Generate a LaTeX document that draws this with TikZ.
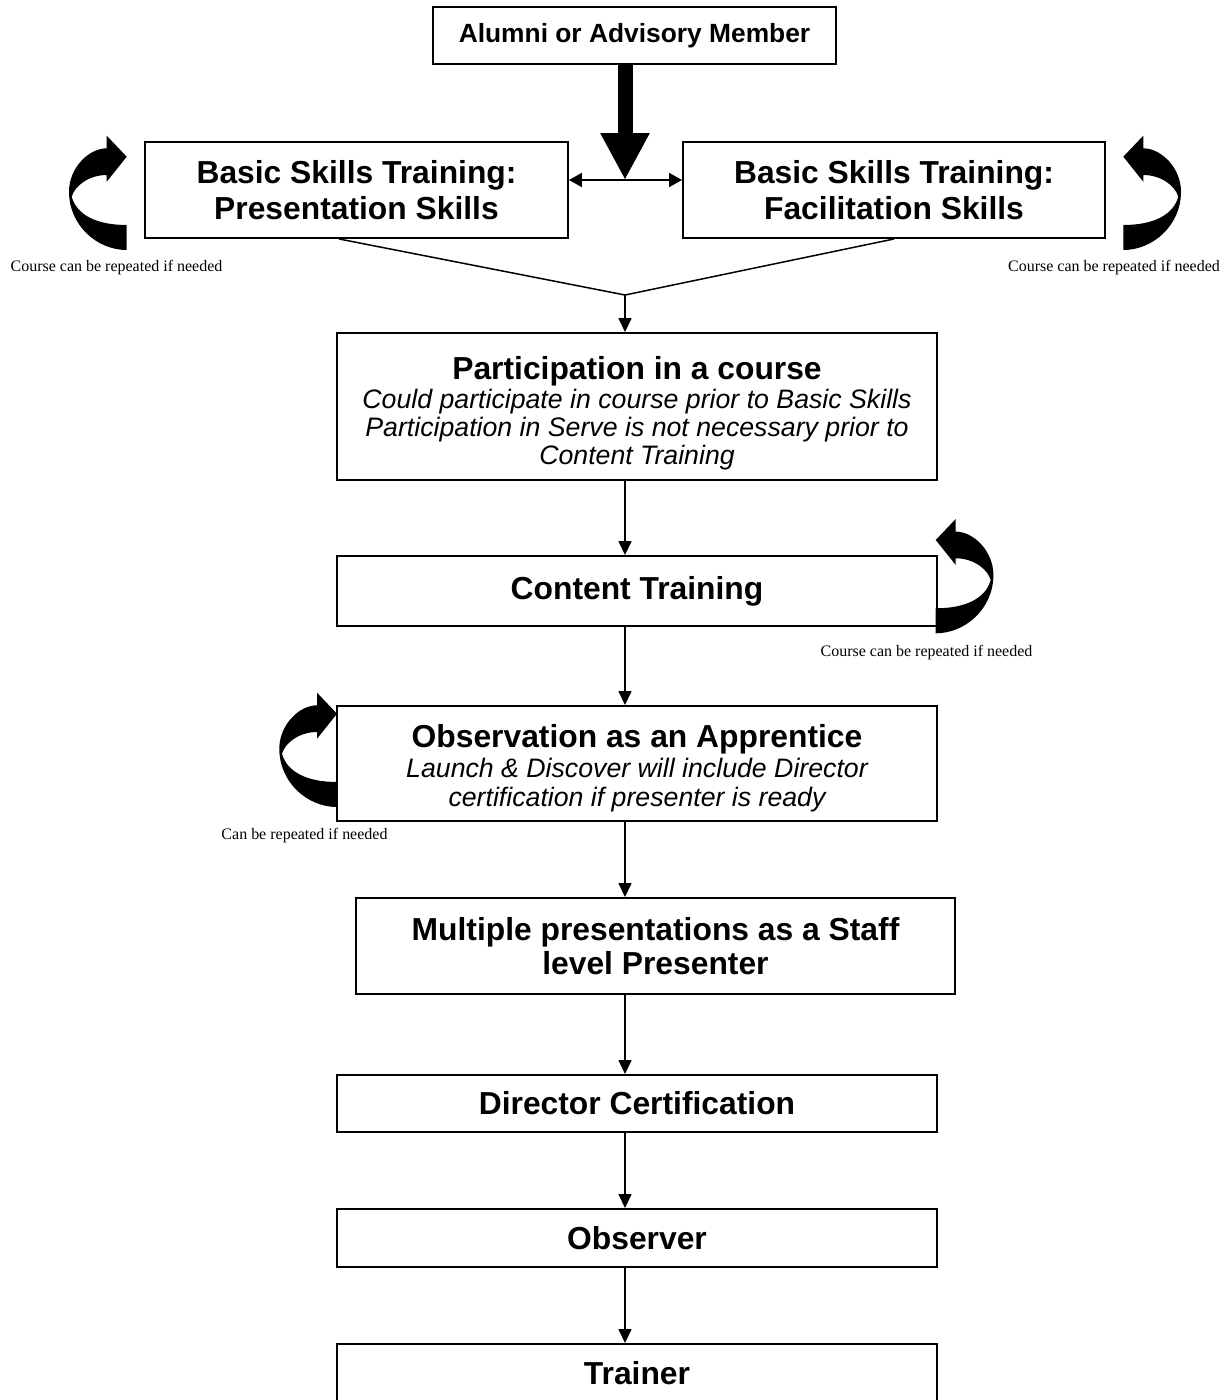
\documentclass[tikz,border=0pt]{standalone}
\usepackage{fontspec}
\setmainfont{Liberation Sans}
\newfontfamily\notefont{Liberation Serif}
\usetikzlibrary{arrows.meta,positioning,calc}

\tikzset{
    box/.style={draw, line width=1.1pt, inner sep=0pt, align=center, minimum width=12cm},
    titlefont/.style={font=\fontsize{18.1}{20.8}\selectfont\bfseries},
    bodyfont/.style={font=\fontsize{15.2}{16.2}\selectfont\itshape},
    flow/.style={-{Triangle[length=0.28cm,width=0.26cm]}, line width=0.85pt},
    note/.style={font=\notefont\fontsize{9.1}{11}\selectfont},
    loop arrow/.pic={
        \fill (0,0) .. controls (-30,0) and (-57.7,-25) .. (-57.7,-58.3)
            .. controls (-57.7,-82) and (-38,-101.7) .. (-20,-101.7)
            -- (-20,-114.3) -- (0,-93.3) -- (-20,-68.3) -- (-20,-75)
            .. controls (-38,-75) and (-52,-64) .. (-55,-53.3)
            .. controls (-50,-35) and (-30,-25) .. (0,-25) -- cycle;
    }
}

\begin{document}
\begin{tikzpicture}[x=0.02cm, y=-0.02cm]
    \useasboundingbox (0,0) rectangle (1227,1400);

    % Boxes
    \node[box, minimum width=8.06cm, minimum height=1.14cm, font=\fontsize{15}{18}\selectfont\bfseries] (alumni) at (634.5,35.5) {Alumni or Advisory Member};
    \node[box, titlefont, minimum width=8.46cm, minimum height=1.92cm] (pres) at (356.5,190) {Basic Skills Training:\\Presentation Skills};
    \node[box, titlefont, minimum width=8.44cm, minimum height=1.92cm] (facil) at (894,190) {Basic Skills Training:\\Facilitation Skills};
    \node[box, bodyfont, minimum height=2.94cm, text height=2.34cm, text depth=0pt] (part) at (637,406.5) {{\fontsize{18.1}{20}\selectfont\bfseries\upshape Participation in a course}\\Could participate in course prior to Basic Skills\\Participation in Serve is not necessary prior to\\Content Training};
    \node[box, titlefont, minimum height=1.4cm] (content) at (637,591) {Content Training};
    \node[box, bodyfont, minimum height=2.3cm, text height=1.7cm, text depth=0pt] (obs) at (637,763.5) {{\fontsize{18.1}{20}\selectfont\bfseries\upshape Observation as an Apprentice}\\[1pt]Launch \& Discover will include Director\\certification if presenter is ready};
    \node[box, font=\fontsize{18.1}{19.3}\selectfont\bfseries, minimum width=11.98cm, minimum height=1.92cm] (multi) at (655.5,946) {Multiple presentations as a Staff\\level Presenter};
    \node[box, titlefont, minimum height=1.14cm] (director) at (637,1103.5) {Director Certification};
    \node[box, titlefont, minimum height=1.16cm] (observer) at (637,1238) {Observer};
    \node[box, titlefont, minimum height=1.16cm] (trainer) at (637,1373) {Trainer};

    % Junctions
    \coordinate (mid) at (625,180);
    \coordinate (join) at (625,295);

    % Arrows at the top
    \draw[line width=0.3cm, -{Triangle[length=0.94cm,width=0.92cm]}] (alumni.south -| mid) -- (mid);
    \draw[{Triangle[length=0.26cm,width=0.28cm]}-{Triangle[length=0.26cm,width=0.28cm]}, line width=0.85pt] (mid -| pres.east) -- (mid -| facil.west);
    \draw[line width=0.85pt] ([xshift=-0.35cm]pres.south) -- (join) -- (facil.south);
    \draw[flow] (join) -- (join |- part.north);

    % Main flow
    \foreach \a/\b in {part/content, content/obs, obs/multi, multi/director, director/observer, observer/trainer} {
        \draw[flow] (\a.south -| join) -- (\b.north -| join);
    }

    % Repeat arrows
    \pic at (126.7,250) {loop arrow};
    \pic[xscale=-1] at (1123.3,250) {loop arrow};
    \pic[xscale=-1] at (935.7,633.3) {loop arrow};
    \pic at (337,807) {loop arrow};

    % Notes
    \node[note] (note1) at (116.5,268) {Course can be repeated if needed};
    \node[note] (note2) at (1114,268) {Course can be repeated if needed};
    \node[note] (note3) at (926.5,653) {Course can be repeated if needed};
    \node[note] (note4) at (304.5,836) {Can be repeated if needed};
\end{tikzpicture}
\end{document}
